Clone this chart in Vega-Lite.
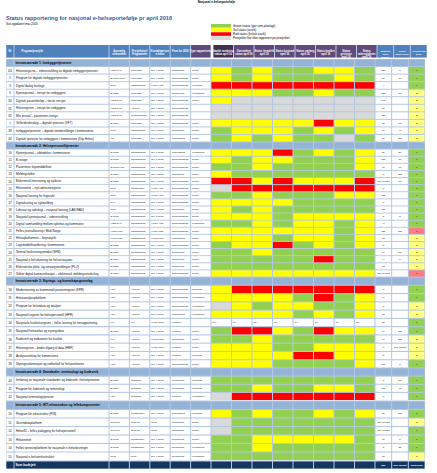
{
"$schema":"https://vega.github.io/schema/vega-lite/v6.json",
"background":"#FFFFFF",
"padding":{"left":6,"top":0,"right":4,"bottom":4},
"config":{"font":"Liberation Sans","view":{"stroke":null},"concat":{"spacing":0}},
"title":{"text":"Nasjonal e-helseportefølje","fontSize":3,"fontWeight":"bold","anchor":"middle","color":"#000000","offset":12},
"datasets":{
"legend":[{"code":"G","label":"Grønn status (går som planlagt)"},{"code":"Y","label":"Gul status (avvik)"},{"code":"R","label":"Rød status (kritisk avvik)"},{"code":"X","label":"Prosjektet har ikke rapportert på prosjektet"}],
"header":[
{"k":"nr","t":"Nr","g":"basis"},
{"k":"name","t":"Program/prosjekt","g":"basis"},
{"k":"a","t":"Ansvarlig\nvirksomhet","g":"basis"},
{"k":"b","t":"Prosjekteier/\nProgrameier","g":"basis"},
{"k":"c","t":"Kontaktperson\ne-helse","g":"basis"},
{"k":"fase","t":"Fase for 2016","g":"basis"},
{"k":"rap","t":"Type rapportering","g":"rapport"},
{"k":"s1","t":"Samlet vurdering\nstatus april 16","g":"samlet"},
{"k":"s2","t":"Overordnet\nstatus april 16","g":"rapport"},
{"k":"s3","t":"Status fremdrift\napril 16","g":"rapport"},
{"k":"s4","t":"Status kostnad\napril 16","g":"rapport"},
{"k":"s5","t":"Status omfang\napril 16","g":"rapport"},
{"k":"s6","t":"Status kvalitet\napril 16","g":"rapport"},
{"k":"s7","t":"Status\ngevinster\napril 16","g":"rapport"},
{"k":"s8","t":"Status\navhengigheter\napril 16","g":"rapport"},
{"k":"n1","t":"Budsjett\n2016\n(MNOK)","g":"okonomi"},
{"k":"n2","t":"Tildelt\nmidler 2016","g":"okonomi"},
{"k":"p","t":"Prioritering\n2016","g":"okonomi"}],
"rows":[
{"sec":"S1","i":1,"t":"section","name":"Innsatsområde 1: Innbyggertjenester"},
{"sec":"S1","i":2,"t":"item","nr":"101","name":"Helsenorge.no – videreutvikling av digitale innbyggertjenester","a":"HSØ RHF","b":"Innbygger","c":"Dir. e-helse","fase":"Realisering","rap":"Tertial","s1":"Y","s2":"G","s3":"Y","s4":"G","s5":"G","s6":"Y","s7":"Y","s8":"G","n1":"250","n2":"5","p":"1"},
{"sec":"S1","i":3,"t":"item","nr":"5","name":"Program for digitale innbyggertjenester","a":"E-helse/NHN","b":"Innbygger","c":"Dir. e-helse","fase":"Gjennomføring","rap":"Tertial","s1":"Y","s2":"G","s3":"Y","s4":"G","s5":"G","s6":"G","s7":"Y","s8":"G","n1":"86","n2":"80","p":"1"},
{"sec":"S1","i":4,"t":"item","nr":"3","name":"Digital dialog fastlege","a":"NHN","b":"Samhandling","c":"Helse Vest","fase":"Gjennomføring","rap":"Månedlig","s1":"R","s2":"R","s3":"R","s4":"R","s5":"R","s6":"R","s7":"R","s8":"R","n1":"4","n2":"","p":"1"},
{"sec":"S1","i":5,"t":"item","nr":"9","name":"Kjernejournal – innsyn for innbyggere","a":"E-helse","b":"Innbygger","c":"Dir. e-helse","fase":"Realisering","rap":"Kvartalsvis","s1":"Y","s2":"Y","s3":"Y","s4":"G","s5":"G","s6":"Y","s7":"G","s8":"G","n1":"153","n2":"53","p":"2"},
{"sec":"S1","i":6,"t":"item","nr":"80","name":"Digitale pasientforløp – første versjon","a":"HSØ RHF","b":"Innbygger","c":"Dir. e-helse","fase":"Gjennomføring","rap":"Tertial","s1":"Y","s2":"X","s3":"X","s4":"X","s5":"X","s6":"X","s7":"X","s8":"X","n1":"540","n2":"","p":"2"},
{"sec":"S1","i":7,"t":"item","nr":"81","name":"Helseregistre – innsyn for innbyggere","a":"HSØ RHF","b":"Analyse","c":"Dir. e-helse","fase":"Gjennomføring","rap":"","s1":"X","s2":"X","s3":"X","s4":"X","s5":"X","s6":"X","s7":"X","s8":"X","n1":"17","n2":"","p":"2"},
{"sec":"S1","i":8,"t":"item","nr":"82","name":"Min journal – pasientens innsyn","a":"HSØ RHF","b":"Prosjektkontor","c":"Dir. e-helse","fase":"Gjennomføring","rap":"","s1":"X","s2":"X","s3":"X","s4":"X","s5":"X","s6":"X","s7":"X","s8":"X","n1":"720","n2":"","p":"2"},
{"sec":"S1","i":9,"t":"item","nr":"7","name":"Velferdsteknologi – digitale tjenester (VFT)","a":"E-helse","b":"Innbygger","c":"Dir. e-helse","fase":"Gjennomføring","rap":"Tertial","s1":"Y","s2":"Y","s3":"Y","s4":"Y","s5":"Y","s6":"R","s7":"Y","s8":"Y","n1":"30","n2":"30","p":"2"},
{"sec":"S1","i":10,"t":"item","nr":"83","name":"Innbyggertjenester – digitale timebestillinger i kommunene","a":"NHN","b":"Samhandling","c":"Dir. e-helse","fase":"Realisering","rap":"Tertial","s1":"G","s2":"Y","s3":"Y","s4":"Y","s5":"G","s6":"Y","s7":"G","s8":"Y","n1":"40","n2":"40","p":"2"},
{"sec":"S1","i":11,"t":"item","nr":"84","name":"Digitale tjenester for innbyggere i kommunene (Digi Helse)","a":"KS","b":"Innbygger","c":"Dir. e-helse","fase":"Planlegging","rap":"Tertial","s1":"G","s2":"Y","s3":"G","s4":"Y","s5":"G","s6":"G","s7":"X","s8":"G","n1":"10","n2":"25","p":"2"},
{"sec":"S2","i":12,"t":"section","name":"Innsatsområde 2: Helsepersonelltjenester"},
{"sec":"S2","i":13,"t":"item","nr":"10","name":"Kjernejournal – utbredelse i kommunene","a":"E-helse","b":"Samhandling","c":"Dir. e-helse","fase":"Planlegging","rap":"Kvartalsvis","s1":"Y","s2":"Y","s3":"Y","s4":"R","s5":"G","s6":"Y","s7":"G","s8":"Y","n1":"20","n2":"20","p":"1"},
{"sec":"S2","i":14,"t":"item","nr":"11","name":"E-resept","a":"E-helse","b":"Samhandling","c":"Dir. e-helse","fase":"Gjennomføring","rap":"Tertial","s1":"Y","s2":"G","s3":"Y","s4":"Y","s5":"G","s6":"G","s7":"G","s8":"Y","n1":"150","n2":"30","p":"1"},
{"sec":"S2","i":15,"t":"item","nr":"12","name":"Pasientens legemiddelliste","a":"E-helse/Hdir","b":"Samhandling","c":"Dir. e-helse","fase":"Gjennomføring","rap":"Tertial","s1":"G","s2":"G","s3":"Y","s4":"G","s5":"G","s6":"G","s7":"G","s8":"Y","n1":"17","n2":"17","p":"1"},
{"sec":"S2","i":16,"t":"item","nr":"13","name":"Meldingsløftet","a":"E-helse","b":"Samhandling","c":"Dir. e-helse","fase":"Realisering","rap":"Tertial","s1":"Y","s2":"G","s3":"G","s4":"G","s5":"G","s6":"G","s7":"G","s8":"G","n1":"3","n2":"150","p":"1"},
{"sec":"S2","i":17,"t":"item","nr":"14","name":"Elektronisk henvisning og epikrise","a":"E-helse","b":"Samhandling","c":"Dir. e-helse","fase":"Gjennomføring","rap":"Tertial","s1":"R","s2":"R","s3":"Y","s4":"R","s5":"Y","s6":"Y","s7":"Y","s8":"R","n1":"Ikke avklart","n2":"10","p":"1"},
{"sec":"S2","i":18,"t":"item","nr":"15","name":"Helsenettet – nytt adresseregister","a":"NHN","b":"Infrastruktur","c":"Helse Vest","fase":"Gjennomføring","rap":"Tertial","s1":"X","s2":"R","s3":"R","s4":"R","s5":"R","s6":"R","s7":"R","s8":"R","n1":"3","n2":"","p":"1"},
{"sec":"S2","i":19,"t":"item","nr":"16","name":"Nasjonal løsning for legevakt","a":"NHN","b":"Samhandling","c":"Helse Vest","fase":"Gjennomføring","rap":"Tertial","s1":"G","s2":"G","s3":"Y","s4":"G","s5":"G","s6":"G","s7":"Y","s8":"Y","n1":"150","n2":"","p":"1"},
{"sec":"S2","i":20,"t":"item","nr":"17","name":"Digitalisering av sykmelding","a":"NAV","b":"Samhandling","c":"Dir. e-helse","fase":"Gjennomføring","rap":"Tertial","s1":"Y","s2":"Y","s3":"Y","s4":"Y","s5":"G","s6":"G","s7":"G","s8":"G","n1":"3","n2":"","p":"1"},
{"sec":"S2","i":21,"t":"item","nr":"18","name":"Labsvar og radiologi – nasjonal løsning (LAB-RAD)","a":"NHN","b":"Samhandling","c":"Dir. e-helse","fase":"Realisering","rap":"Tertial","s1":"Y","s2":"G","s3":"Y","s4":"G","s5":"G","s6":"G","s7":"G","s8":"G","n1":"110","n2":"","p":"1"},
{"sec":"S2","i":22,"t":"item","nr":"19","name":"Nasjonal kjernejournal – videreutvikling","a":"E-helse","b":"Samhandling","c":"Dir. e-helse","fase":"Gjennomføring","rap":"Tertial","s1":"Y","s2":"Y","s3":"Y","s4":"G","s5":"Y","s6":"Y","s7":"Y","s8":"Y","n1":"5","n2":"5","p":"1"},
{"sec":"S2","i":23,"t":"item","nr":"20","name":"Digital samhandling mellom sykehus og kommuner","a":"HSØ RHF","b":"Samhandling","c":"Helse Vest","fase":"Gjennomføring","rap":"Kvartalsvis","s1":"G","s2":"G","s3":"Y","s4":"G","s5":"Y","s6":"Y","s7":"G","s8":"Y","n1":"44","n2":"","p":"1"},
{"sec":"S2","i":24,"t":"item","nr":"21","name":"Felles journalløsning i Midt-Norge","a":"Helse Midt","b":"Samhandling","c":"Helse Midt","fase":"Gjennomføring","rap":"Tertial","s1":"Y","s2":"Y","s3":"Y","s4":"Y","s5":"Y","s6":"Y","s7":"G","s8":"Y","n1":"120","n2":"120","p":"3"},
{"sec":"S2","i":25,"t":"item","nr":"22","name":"Helseplattformen – forprosjekt","a":"Helse Midt","b":"Samhandling","c":"Helse Midt","fase":"Planlegging","rap":"Tertial","s1":"Y","s2":"Y","s3":"Y","s4":"G","s5":"Y","s6":"Y","s7":"G","s8":"Y","n1":"12","n2":"","p":"2"},
{"sec":"S2","i":26,"t":"item","nr":"23","name":"Legemiddelhåndtering i kommunene","a":"E-helse","b":"Samhandling","c":"Dir. e-helse","fase":"Gjennomføring","rap":"Tertial","s1":"G","s2":"Y","s3":"Y","s4":"R","s5":"G","s6":"Y","s7":"G","s8":"Y","n1":"5","n2":"","p":"2"},
{"sec":"S2","i":27,"t":"item","nr":"24","name":"Sentral forskrivningsmodul (SFM)","a":"E-helse","b":"Samhandling","c":"Dir. e-helse","fase":"Realisering","rap":"Tertial","s1":"G","s2":"G","s3":"Y","s4":"G","s5":"G","s6":"G","s7":"G","s8":"G","n1":"14","n2":"30","p":"2"},
{"sec":"S2","i":28,"t":"item","nr":"25","name":"Nasjonal e-helseløsning for helsestasjoner","a":"E-helse","b":"Samhandling","c":"Dir. e-helse","fase":"Realisering","rap":"Tertial","s1":"G","s2":"G","s3":"G","s4":"G","s5":"G","s6":"R","s7":"G","s8":"G","n1":"44","n2":"44","p":"2"},
{"sec":"S2","i":29,"t":"item","nr":"26","name":"Elektroniske pleie- og omsorgsmeldinger (PLO)","a":"E-helse","b":"Samhandling","c":"Dir. e-helse","fase":"Realisering","rap":"Tertial","s1":"G","s2":"G","s3":"G","s4":"G","s5":"G","s6":"G","s7":"G","s8":"G","n1":"12","n2":"","p":"2"},
{"sec":"S2","i":30,"t":"item","nr":"27","name":"Sikker digital kommunikasjon – elektronisk meldingsutveksling","a":"E-helse","b":"Samhandling","c":"Dir. e-helse","fase":"Gjennomføring","rap":"Tertial","s1":"Y","s2":"Y","s3":"Y","s4":"Y","s5":"Y","s6":"Y","s7":"Y","s8":"Y","n1":"Ikke avklart","n2":"","p":"3"},
{"sec":"S3","i":31,"t":"section","name":"Innsatsområde 3: Styrings- og kunnskapsgrunnlag"},
{"sec":"S3","i":32,"t":"item","nr":"30","name":"Modernisering av kommunalt pasientregister (KPR)","a":"Hdir","b":"Analyse","c":"Dir. e-helse","fase":"Gjennomføring","rap":"Månedlig","s1":"Y","s2":"R","s3":"R","s4":"R","s5":"R","s6":"R","s7":"R","s8":"R","n1":"3","n2":"","p":"1"},
{"sec":"S3","i":33,"t":"item","nr":"31","name":"Helseanalyseplattform","a":"Hdir","b":"Analyse","c":"Dir. e-helse","fase":"Gjennomføring","rap":"Kvartalsvis","s1":"Y","s2":"Y","s3":"Y","s4":"Y","s5":"G","s6":"R","s7":"G","s8":"Y","n1":"14","n2":"","p":"1"},
{"sec":"S3","i":34,"t":"item","nr":"32","name":"Program for helsedata og analyse","a":"Hdir","b":"Analyse","c":"Dir. e-helse","fase":"Gjennomføring","rap":"Kvartalsvis","s1":"X","s2":"Y","s3":"G","s4":"Y","s5":"Y","s6":"G","s7":"G","s8":"Y","n1":"3","n2":"","p":"2"},
{"sec":"S3","i":35,"t":"item","nr":"33","name":"Nasjonalt register for helsepersonell (HPR)","a":"Hdir","b":"Analyse","c":"Dir. e-helse","fase":"Planlegging","rap":"Kvartalsvis","s1":"Y","s2":"Y","s3":"Y","s4":"Y","s5":"G","s6":"Y","s7":"G","s8":"Y","n1":"18","n2":"","p":"2"},
{"sec":"S3","i":36,"t":"item","nr":"34","name":"Nasjonale kvalitetsregistre – felles løsning for innrapportering","a":"FHI","b":"FHI","c":"Helse Nord","fase":"Konsept","rap":"","s1":"N/A","s2":"N/A","s3":"N/A","s4":"N/A","s5":"N/A","s6":"N/A","s7":"N/A","s8":"N/A","n1":"20","n2":"","p":"1"},
{"sec":"S3","i":37,"t":"item","nr":"35","name":"Nasjonalt helseatlas og styringsdata","a":"E-helse","b":"Analyse","c":"Dir. e-helse","fase":"Konsept","rap":"Tertial","s1":"G","s2":"R","s3":"R","s4":"Y","s5":"G","s6":"R","s7":"Y","s8":"Y","n1":"14","n2":"110","p":"1"},
{"sec":"S3","i":38,"t":"item","nr":"36","name":"Kodeverk og indikatorer for kvalitet","a":"FHI","b":"Analyse","c":"Helse Nord","fase":"Realisering","rap":"Tertial","s1":"G","s2":"G","s3":"Y","s4":"G","s5":"G","s6":"G","s7":"G","s8":"G","n1":"14","n2":"110","p":"2"},
{"sec":"S3","i":39,"t":"item","nr":"37","name":"Helseregistre – bedre tilgang til data (HRP)","a":"FHI","b":"Analyse","c":"Helse Nord","fase":"Konsept","rap":"Tertial","s1":"Y","s2":"Y","s3":"Y","s4":"G","s5":"G","s6":"Y","s7":"Y","s8":"Y","n1":"3","n2":"Ikke fordelt","p":"2"},
{"sec":"S3","i":40,"t":"item","nr":"38","name":"Analyseverktøy for kommunene","a":"Hdir","b":"Analyse","c":"Dir. e-helse","fase":"Konsept","rap":"Månedlig","s1":"Y","s2":"Y","s3":"Y","s4":"Y","s5":"R","s6":"R","s7":"Y","s8":"Y","n1":"5","n2":"","p":"2"},
{"sec":"S3","i":41,"t":"item","nr":"39","name":"Styringsinformasjon og nøkkeltall for helsesektoren","a":"Hdir","b":"Analyse","c":"Dir. e-helse","fase":"Gjennomføring","rap":"Tertial","s1":"Y","s2":"Y","s3":"Y","s4":"G","s5":"G","s6":"G","s7":"G","s8":"Y","n1":"160","n2":"5","p":"1"},
{"sec":"S4","i":42,"t":"section","name":"Innsatsområde 4: Standarder, terminologi og kodeverk"},
{"sec":"S4","i":43,"t":"item","nr":"40","name":"Innføring av nasjonale standarder og kodeverk i helsetjenesten","a":"E-helse","b":"Standard","c":"Dir. e-helse","fase":"Realisering","rap":"Månedlig","s1":"G","s2":"G","s3":"G","s4":"G","s5":"G","s6":"G","s7":"G","s8":"G","n1":"7","n2":"10","p":"1"},
{"sec":"S4","i":44,"t":"item","nr":"41","name":"Program for kodeverk og terminologi","a":"E-helse","b":"Standard","c":"Dir. e-helse","fase":"Realisering","rap":"Månedlig","s1":"G","s2":"G","s3":"Y","s4":"G","s5":"G","s6":"Y","s7":"Y","s8":"G","n1":"170","n2":"45","p":"1"},
{"sec":"S4","i":45,"t":"item","nr":"42","name":"Nasjonal terminologitjeneste","a":"Hdir","b":"Standard","c":"Dir. e-helse","fase":"Konsept","rap":"Kvartalsvis","s1":"X","s2":"R","s3":"R","s4":"R","s5":"R","s6":"R","s7":"R","s8":"R","n1":"3","n2":"","p":"1"},
{"sec":"S5","i":46,"t":"section","name":"Innsatsområde 5: IKT-infrastruktur og fellekomponenter"},
{"sec":"S5","i":47,"t":"item","nr":"50","name":"Program for infrastruktur (PIN)","a":"E-helse","b":"Infrastruktur","c":"Dir. e-helse","fase":"Planlegging","rap":"Månedlig","s1":"Y","s2":"G","s3":"Y","s4":"G","s5":"G","s6":"Y","s7":"G","s8":"Y","n1":"75","n2":"130","p":"1"},
{"sec":"S5","i":48,"t":"item","nr":"51","name":"Grunndataplattform","a":"NHN SF","b":"NHN SF","c":"NHN","fase":"Realisering","rap":"Tertial","s1":"X","s2":"G","s3":"G","s4":"G","s5":"G","s6":"G","s7":"G","s8":"G","n1":"Ikke avklart","n2":"","p":"2"},
{"sec":"S5","i":49,"t":"item","nr":"52","name":"HelseID – felles pålogging for helsepersonell","a":"NHN SF","b":"NHN SF","c":"NHN","fase":"Realisering","rap":"Tertial","s1":"X","s2":"G","s3":"G","s4":"G","s5":"G","s6":"G","s7":"G","s8":"G","n1":"Ikke avklart","n2":"","p":"1"},
{"sec":"S5","i":50,"t":"item","nr":"53","name":"Helsenettet","a":"E-helse","b":"Infrastruktur","c":"Dir. e-helse","fase":"Realisering","rap":"Tertial","s1":"G","s2":"G","s3":"Y","s4":"Y","s5":"Y","s6":"Y","s7":"Y","s8":"G","n1":"10","n2":"5","p":"1"},
{"sec":"S5","i":51,"t":"item","nr":"54","name":"Felles tjenesteplattform for nasjonale e-helseløsninger","a":"E-helse","b":"Infrastruktur","c":"Dir. e-helse","fase":"Realisering","rap":"Kvartalsvis","s1":"G","s2":"G","s3":"Y","s4":"G","s5":"G","s6":"G","s7":"G","s8":"G","n1":"8","n2":"25","p":"1"},
{"sec":"S5","i":52,"t":"item","nr":"55","name":"Nasjonal e-helseinfrastruktur","a":"NHN","b":"NHN","c":"Dir. e-helse","fase":"Realisering","rap":"Kvartalsvis","s1":"G","s2":"G","s3":"G","s4":"G","s5":"G","s6":"G","s7":"G","s8":"G","n1":"68","n2":"","p":"2"},
{"sec":"T","i":53,"t":"total","name":"Sum budsjett","n1":"830","n2":"Ikke fordelt"}
]},
"data":{"name":"rows"},
"spacing":4,
"vconcat":[
{"hconcat":[
 {"width":205,"height":16,"data":{"values":[]},"mark":"point","encoding":{},
  "title":{"text":"Status rapportering for nasjonal e-helseportefølje pr april 2016","subtitle":"Sist oppdatert mai 2016","anchor":"start","fontSize":5.6,"fontWeight":"bold","color":"#2E5C9E","subtitleFontSize":3,"subtitleColor":"#000000","subtitlePadding":1.5,"offset":-2}},
 {"width":20,"height":16,"data":{"name":"legend"},"mark":"rect",
  "encoding":{"y":{"field":"label","type":"nominal","sort":["Grønn status (går som planlagt)","Gul status (avvik)","Rød status (kritisk avvik)","Prosjektet har ikke rapportert på prosjektet"],"axis":{"orient":"right","title":null,"ticks":false,"domain":false,"labelFontSize":3,"labelPadding":1.5,"labelColor":"#000000","labelLimit":0},"scale":{"paddingInner":0.12,"paddingOuter":0}},
   "color":{"field":"code","type":"nominal","scale":{"domain":["G","Y","R","X","N/A","1","2","3"],"range":["#92D050","#FFFF00","#FF0000","#D9D9D9","#FFFFFF","#92D050","#FFFF80","#FF7C80"]},"legend":null}}}
],"spacing":0,"bounds":"flush"},
{"spacing":0,"vconcat":[
{"spacing":0,"hconcat":[
 {"width":8,"height":12.5,"view":{"fill":"#B4C7E3","stroke":null},"data":{"name":"header"},"transform":[{"filter":{"field":"k","oneOf":["nr"]}}],"encoding":{"x":{"field":"k","type":"nominal","axis":null,"scale":{"paddingInner":0,"paddingOuter":0.06}}},"layer":[{"mark":"rect","encoding":{"fill":{"field":"g","type":"nominal","scale":{"domain":["basis","rapport","samlet","okonomi"],"range":["#4F81BD","#604A7B","#3F3151","#4F81BD"]},"legend":null}}},{"mark":{"type":"text","fontSize":2.6,"fontWeight":"bold","color":"#FFFFFF","lineBreak":"\n","lineHeight":3},"encoding":{"text":{"field":"t"}}}]},
 {"width":95,"height":12.5,"view":{"fill":"#B4C7E3","stroke":null},"data":{"name":"header"},"transform":[{"filter":{"field":"k","oneOf":["name"]}}],"encoding":{"x":{"field":"k","type":"nominal","axis":null,"scale":{"paddingInner":0,"paddingOuter":0.005}}},"layer":[{"mark":"rect","encoding":{"fill":{"field":"g","type":"nominal","scale":{"domain":["basis","rapport","samlet","okonomi"],"range":["#4F81BD","#604A7B","#3F3151","#4F81BD"]},"legend":null}}},{"mark":{"type":"text","fontSize":2.6,"fontWeight":"bold","color":"#FFFFFF","align":"left","dx":7,"lineBreak":"\n","lineHeight":3},"encoding":{"x":{"field":"k","type":"nominal","bandPosition":0,"axis":null},"text":{"field":"t"}}}]},
 {"width":102,"height":12.5,"view":{"fill":"#B4C7E3","stroke":null},"data":{"name":"header"},"transform":[{"filter":{"field":"k","oneOf":["a","b","c","fase","rap"]}}],"encoding":{"x":{"field":"k","type":"nominal","sort":["a","b","c","fase","rap"],"axis":null,"scale":{"paddingInner":0.05,"paddingOuter":0.025}}},"layer":[{"mark":"rect","encoding":{"fill":{"field":"g","type":"nominal","scale":{"domain":["basis","rapport","samlet","okonomi"],"range":["#4F81BD","#604A7B","#3F3151","#4F81BD"]},"legend":null}}},{"mark":{"type":"text","fontSize":2.6,"fontWeight":"bold","color":"#FFFFFF","lineBreak":"\n","lineHeight":3},"encoding":{"text":{"field":"t"}}}]},
 {"width":164,"height":12.5,"view":{"fill":"#B4C7E3","stroke":null},"data":{"name":"header"},"transform":[{"filter":{"field":"k","oneOf":["s1","s2","s3","s4","s5","s6","s7","s8"]}}],"encoding":{"x":{"field":"k","type":"nominal","sort":["s1","s2","s3","s4","s5","s6","s7","s8"],"axis":null,"scale":{"paddingInner":0.05,"paddingOuter":0.025}}},"layer":[{"mark":"rect","encoding":{"fill":{"field":"g","type":"nominal","scale":{"domain":["basis","rapport","samlet","okonomi"],"range":["#4F81BD","#604A7B","#3F3151","#4F81BD"]},"legend":null}}},{"mark":{"type":"text","fontSize":2.6,"fontWeight":"bold","color":"#FFFFFF","lineBreak":"\n","lineHeight":3},"encoding":{"text":{"field":"t"}}}]},
 {"width":50,"height":12.5,"view":{"fill":"#B4C7E3","stroke":null},"data":{"name":"header"},"transform":[{"filter":{"field":"k","oneOf":["n1","n2","p"]}}],"encoding":{"x":{"field":"k","type":"nominal","sort":["n1","n2","p"],"axis":null,"scale":{"paddingInner":0.06,"paddingOuter":0.03}}},"layer":[{"mark":"rect","encoding":{"fill":{"field":"g","type":"nominal","scale":{"domain":["basis","rapport","samlet","okonomi"],"range":["#4F81BD","#604A7B","#3F3151","#4F81BD"]},"legend":null}}},{"mark":{"type":"text","fontSize":2.4,"fontWeight":"bold","color":"#FFFFFF","lineBreak":"\n","lineHeight":3},"encoding":{"text":{"field":"t"}}}]}
]},
{"spacing":0,"hconcat":[
 {"width":8,"height":83,"view":{"fill":"#B4C7E3","stroke":null},"transform":[{"filter":"datum.sec==='S1'"},{"fold":["nr"]}],"encoding":{"x":{"field":"key","type":"nominal","axis":null,"scale":{"paddingInner":0,"paddingOuter":0.06}},"y":{"field":"i","type":"ordinal","axis":null,"scale":{"paddingInner":0.13,"paddingOuter":0.065}}},"layer":[{"mark":"rect","encoding":{"color":{"condition":[{"test":"datum.t==='section'","value":"#95B3D7"},{"test":"datum.t==='total'","value":"#17365D"}],"value":"#FFFFFF"}}},{"transform":[{"filter":"datum.t==='item'"}],"mark":{"type":"text","fontSize":2.8,"color":"#111111"},"encoding":{"text":{"field":"value"}}}]},
 {"width":95,"height":83,"view":{"fill":"#B4C7E3","stroke":null},"transform":[{"filter":"datum.sec==='S1'"},{"fold":["name"]}],"encoding":{"x":{"field":"key","type":"nominal","axis":null,"scale":{"paddingInner":0,"paddingOuter":0.005}},"y":{"field":"i","type":"ordinal","axis":null,"scale":{"paddingInner":0.13,"paddingOuter":0.065}}},"layer":[{"mark":"rect","encoding":{"color":{"condition":[{"test":"datum.t==='section'","value":"#95B3D7"},{"test":"datum.t==='total'","value":"#17365D"}],"value":"#FFFFFF"}}},{"transform":[{"filter":"datum.t==='item'"}],"mark":{"type":"text","fontSize":3,"align":"left","dx":1.5,"color":"#111111"},"encoding":{"x":{"field":"key","type":"nominal","bandPosition":0,"axis":null},"text":{"field":"value"}}},{"transform":[{"filter":"datum.t==='section'"}],"mark":{"type":"text","fontSize":3.2,"fontWeight":"bold","align":"left","dx":1,"color":"#000000"},"encoding":{"x":{"field":"key","type":"nominal","bandPosition":0,"axis":null},"text":{"field":"value"}}}]},
 {"width":102,"height":83,"view":{"fill":"#B4C7E3","stroke":null},"transform":[{"filter":"datum.sec==='S1'"},{"fold":["a","b","c","fase","rap"]}],"encoding":{"x":{"field":"key","type":"nominal","sort":["a","b","c","fase","rap"],"axis":null,"scale":{"paddingInner":0.05,"paddingOuter":0.025}},"y":{"field":"i","type":"ordinal","axis":null,"scale":{"paddingInner":0.13,"paddingOuter":0.065}}},"layer":[{"mark":"rect","encoding":{"color":{"condition":[{"test":"datum.t==='section'","value":"#95B3D7"},{"test":"datum.t==='total'","value":"#17365D"}],"value":"#FFFFFF"}}},{"transform":[{"filter":"datum.t==='item'"}],"mark":{"type":"text","fontSize":2.5,"align":"left","dx":1,"color":"#111111"},"encoding":{"x":{"field":"key","type":"nominal","sort":["a","b","c","fase","rap"],"bandPosition":0,"axis":null},"text":{"field":"value"}}}]},
 {"width":164,"height":83,"view":{"fill":"#B4C7E3","stroke":null},"transform":[{"filter":"datum.sec==='S1'"},{"fold":["s1","s2","s3","s4","s5","s6","s7","s8"]}],"encoding":{"x":{"field":"key","type":"nominal","sort":["s1","s2","s3","s4","s5","s6","s7","s8"],"axis":null,"scale":{"paddingInner":0.05,"paddingOuter":0.025}},"y":{"field":"i","type":"ordinal","axis":null,"scale":{"paddingInner":0.13,"paddingOuter":0.065}}},"layer":[{"mark":"rect","encoding":{"color":{"condition":[{"test":"datum.t==='section'","value":"#95B3D7"},{"test":"datum.t==='total'","value":"#17365D"}],"field":"value","type":"nominal","scale":{"domain":["G","Y","R","X","N/A","1","2","3"],"range":["#92D050","#FFFF00","#FF0000","#D9D9D9","#FFFFFF","#92D050","#FFFF80","#FF7C80"]},"legend":null}}}]},
 {"width":50,"height":83,"view":{"fill":"#B4C7E3","stroke":null},"transform":[{"filter":"datum.sec==='S1'"},{"fold":["n1","n2","p"]}],"encoding":{"x":{"field":"key","type":"nominal","sort":["n1","n2","p"],"axis":null,"scale":{"paddingInner":0.06,"paddingOuter":0.03}},"y":{"field":"i","type":"ordinal","axis":null,"scale":{"paddingInner":0.13,"paddingOuter":0.065}}},"layer":[{"mark":"rect","encoding":{"color":{"condition":[{"test":"datum.t==='section'","value":"#95B3D7"},{"test":"datum.t==='total'","value":"#17365D"},{"test":"datum.key!=='p'","value":"#FFFFFF"}],"field":"value","type":"nominal","scale":{"domain":["G","Y","R","X","N/A","1","2","3"],"range":["#92D050","#FFFF00","#FF0000","#D9D9D9","#FFFFFF","#92D050","#FFFF80","#FF7C80"]},"legend":null}}},{"transform":[{"filter":"datum.t==='item'"}],"mark":{"type":"text","fontSize":2.5,"color":"#111111"},"encoding":{"text":{"field":"value"}}}]}
]},
{"spacing":0,"hconcat":[
 {"width":8,"height":135,"view":{"fill":"#B4C7E3","stroke":null},"transform":[{"filter":"datum.sec==='S2'"},{"fold":["nr"]}],"encoding":{"x":{"field":"key","type":"nominal","axis":null,"scale":{"paddingInner":0,"paddingOuter":0.06}},"y":{"field":"i","type":"ordinal","axis":null,"scale":{"paddingInner":0.13,"paddingOuter":0.065}}},"layer":[{"mark":"rect","encoding":{"color":{"condition":[{"test":"datum.t==='section'","value":"#95B3D7"},{"test":"datum.t==='total'","value":"#17365D"}],"value":"#FFFFFF"}}},{"transform":[{"filter":"datum.t==='item'"}],"mark":{"type":"text","fontSize":2.8,"color":"#111111"},"encoding":{"text":{"field":"value"}}}]},
 {"width":95,"height":135,"view":{"fill":"#B4C7E3","stroke":null},"transform":[{"filter":"datum.sec==='S2'"},{"fold":["name"]}],"encoding":{"x":{"field":"key","type":"nominal","axis":null,"scale":{"paddingInner":0,"paddingOuter":0.005}},"y":{"field":"i","type":"ordinal","axis":null,"scale":{"paddingInner":0.13,"paddingOuter":0.065}}},"layer":[{"mark":"rect","encoding":{"color":{"condition":[{"test":"datum.t==='section'","value":"#95B3D7"},{"test":"datum.t==='total'","value":"#17365D"}],"value":"#FFFFFF"}}},{"transform":[{"filter":"datum.t==='item'"}],"mark":{"type":"text","fontSize":3,"align":"left","dx":1.5,"color":"#111111"},"encoding":{"x":{"field":"key","type":"nominal","bandPosition":0,"axis":null},"text":{"field":"value"}}},{"transform":[{"filter":"datum.t==='section'"}],"mark":{"type":"text","fontSize":3.2,"fontWeight":"bold","align":"left","dx":1,"color":"#000000"},"encoding":{"x":{"field":"key","type":"nominal","bandPosition":0,"axis":null},"text":{"field":"value"}}}]},
 {"width":102,"height":135,"view":{"fill":"#B4C7E3","stroke":null},"transform":[{"filter":"datum.sec==='S2'"},{"fold":["a","b","c","fase","rap"]}],"encoding":{"x":{"field":"key","type":"nominal","sort":["a","b","c","fase","rap"],"axis":null,"scale":{"paddingInner":0.05,"paddingOuter":0.025}},"y":{"field":"i","type":"ordinal","axis":null,"scale":{"paddingInner":0.13,"paddingOuter":0.065}}},"layer":[{"mark":"rect","encoding":{"color":{"condition":[{"test":"datum.t==='section'","value":"#95B3D7"},{"test":"datum.t==='total'","value":"#17365D"}],"value":"#FFFFFF"}}},{"transform":[{"filter":"datum.t==='item'"}],"mark":{"type":"text","fontSize":2.5,"align":"left","dx":1,"color":"#111111"},"encoding":{"x":{"field":"key","type":"nominal","sort":["a","b","c","fase","rap"],"bandPosition":0,"axis":null},"text":{"field":"value"}}}]},
 {"width":164,"height":135,"view":{"fill":"#B4C7E3","stroke":null},"transform":[{"filter":"datum.sec==='S2'"},{"fold":["s1","s2","s3","s4","s5","s6","s7","s8"]}],"encoding":{"x":{"field":"key","type":"nominal","sort":["s1","s2","s3","s4","s5","s6","s7","s8"],"axis":null,"scale":{"paddingInner":0.05,"paddingOuter":0.025}},"y":{"field":"i","type":"ordinal","axis":null,"scale":{"paddingInner":0.13,"paddingOuter":0.065}}},"layer":[{"mark":"rect","encoding":{"color":{"condition":[{"test":"datum.t==='section'","value":"#95B3D7"},{"test":"datum.t==='total'","value":"#17365D"}],"field":"value","type":"nominal","scale":{"domain":["G","Y","R","X","N/A","1","2","3"],"range":["#92D050","#FFFF00","#FF0000","#D9D9D9","#FFFFFF","#92D050","#FFFF80","#FF7C80"]},"legend":null}}}]},
 {"width":50,"height":135,"view":{"fill":"#B4C7E3","stroke":null},"transform":[{"filter":"datum.sec==='S2'"},{"fold":["n1","n2","p"]}],"encoding":{"x":{"field":"key","type":"nominal","sort":["n1","n2","p"],"axis":null,"scale":{"paddingInner":0.06,"paddingOuter":0.03}},"y":{"field":"i","type":"ordinal","axis":null,"scale":{"paddingInner":0.13,"paddingOuter":0.065}}},"layer":[{"mark":"rect","encoding":{"color":{"condition":[{"test":"datum.t==='section'","value":"#95B3D7"},{"test":"datum.t==='total'","value":"#17365D"},{"test":"datum.key!=='p'","value":"#FFFFFF"}],"field":"value","type":"nominal","scale":{"domain":["G","Y","R","X","N/A","1","2","3"],"range":["#92D050","#FFFF00","#FF0000","#D9D9D9","#FFFFFF","#92D050","#FFFF80","#FF7C80"]},"legend":null}}},{"transform":[{"filter":"datum.t==='item'"}],"mark":{"type":"text","fontSize":2.5,"color":"#111111"},"encoding":{"text":{"field":"value"}}}]}
]},
{"spacing":0,"hconcat":[
 {"width":8,"height":91,"view":{"fill":"#B4C7E3","stroke":null},"transform":[{"filter":"datum.sec==='S3'"},{"fold":["nr"]}],"encoding":{"x":{"field":"key","type":"nominal","axis":null,"scale":{"paddingInner":0,"paddingOuter":0.06}},"y":{"field":"i","type":"ordinal","axis":null,"scale":{"paddingInner":0.13,"paddingOuter":0.065}}},"layer":[{"mark":"rect","encoding":{"color":{"condition":[{"test":"datum.t==='section'","value":"#95B3D7"},{"test":"datum.t==='total'","value":"#17365D"}],"value":"#FFFFFF"}}},{"transform":[{"filter":"datum.t==='item'"}],"mark":{"type":"text","fontSize":2.8,"color":"#111111"},"encoding":{"text":{"field":"value"}}}]},
 {"width":95,"height":91,"view":{"fill":"#B4C7E3","stroke":null},"transform":[{"filter":"datum.sec==='S3'"},{"fold":["name"]}],"encoding":{"x":{"field":"key","type":"nominal","axis":null,"scale":{"paddingInner":0,"paddingOuter":0.005}},"y":{"field":"i","type":"ordinal","axis":null,"scale":{"paddingInner":0.13,"paddingOuter":0.065}}},"layer":[{"mark":"rect","encoding":{"color":{"condition":[{"test":"datum.t==='section'","value":"#95B3D7"},{"test":"datum.t==='total'","value":"#17365D"}],"value":"#FFFFFF"}}},{"transform":[{"filter":"datum.t==='item'"}],"mark":{"type":"text","fontSize":3,"align":"left","dx":1.5,"color":"#111111"},"encoding":{"x":{"field":"key","type":"nominal","bandPosition":0,"axis":null},"text":{"field":"value"}}},{"transform":[{"filter":"datum.t==='section'"}],"mark":{"type":"text","fontSize":3.2,"fontWeight":"bold","align":"left","dx":1,"color":"#000000"},"encoding":{"x":{"field":"key","type":"nominal","bandPosition":0,"axis":null},"text":{"field":"value"}}}]},
 {"width":102,"height":91,"view":{"fill":"#B4C7E3","stroke":null},"transform":[{"filter":"datum.sec==='S3'"},{"fold":["a","b","c","fase","rap"]}],"encoding":{"x":{"field":"key","type":"nominal","sort":["a","b","c","fase","rap"],"axis":null,"scale":{"paddingInner":0.05,"paddingOuter":0.025}},"y":{"field":"i","type":"ordinal","axis":null,"scale":{"paddingInner":0.13,"paddingOuter":0.065}}},"layer":[{"mark":"rect","encoding":{"color":{"condition":[{"test":"datum.t==='section'","value":"#95B3D7"},{"test":"datum.t==='total'","value":"#17365D"}],"value":"#FFFFFF"}}},{"transform":[{"filter":"datum.t==='item'"}],"mark":{"type":"text","fontSize":2.5,"align":"left","dx":1,"color":"#111111"},"encoding":{"x":{"field":"key","type":"nominal","sort":["a","b","c","fase","rap"],"bandPosition":0,"axis":null},"text":{"field":"value"}}}]},
 {"width":164,"height":91,"view":{"fill":"#B4C7E3","stroke":null},"transform":[{"filter":"datum.sec==='S3'"},{"fold":["s1","s2","s3","s4","s5","s6","s7","s8"]}],"encoding":{"x":{"field":"key","type":"nominal","sort":["s1","s2","s3","s4","s5","s6","s7","s8"],"axis":null,"scale":{"paddingInner":0.05,"paddingOuter":0.025}},"y":{"field":"i","type":"ordinal","axis":null,"scale":{"paddingInner":0.13,"paddingOuter":0.065}}},"layer":[{"mark":"rect","encoding":{"color":{"condition":[{"test":"datum.t==='section'","value":"#95B3D7"},{"test":"datum.t==='total'","value":"#17365D"}],"field":"value","type":"nominal","scale":{"domain":["G","Y","R","X","N/A","1","2","3"],"range":["#92D050","#FFFF00","#FF0000","#D9D9D9","#FFFFFF","#92D050","#FFFF80","#FF7C80"]},"legend":null}}},{"transform":[{"filter":"datum.value==='N/A'"}],"mark":{"type":"text","fontSize":2.5,"align":"left","dx":1,"color":"#111111"},"encoding":{"x":{"field":"key","type":"nominal","sort":["s1","s2","s3","s4","s5","s6","s7","s8"],"bandPosition":0,"axis":null},"text":{"field":"value"}}}]},
 {"width":50,"height":91,"view":{"fill":"#B4C7E3","stroke":null},"transform":[{"filter":"datum.sec==='S3'"},{"fold":["n1","n2","p"]}],"encoding":{"x":{"field":"key","type":"nominal","sort":["n1","n2","p"],"axis":null,"scale":{"paddingInner":0.06,"paddingOuter":0.03}},"y":{"field":"i","type":"ordinal","axis":null,"scale":{"paddingInner":0.13,"paddingOuter":0.065}}},"layer":[{"mark":"rect","encoding":{"color":{"condition":[{"test":"datum.t==='section'","value":"#95B3D7"},{"test":"datum.t==='total'","value":"#17365D"},{"test":"datum.key!=='p'","value":"#FFFFFF"}],"field":"value","type":"nominal","scale":{"domain":["G","Y","R","X","N/A","1","2","3"],"range":["#92D050","#FFFF00","#FF0000","#D9D9D9","#FFFFFF","#92D050","#FFFF80","#FF7C80"]},"legend":null}}},{"transform":[{"filter":"datum.t==='item'"}],"mark":{"type":"text","fontSize":2.5,"color":"#111111"},"encoding":{"text":{"field":"value"}}}]}
]},
{"spacing":0,"hconcat":[
 {"width":8,"height":32.5,"view":{"fill":"#B4C7E3","stroke":null},"transform":[{"filter":"datum.sec==='S4'"},{"fold":["nr"]}],"encoding":{"x":{"field":"key","type":"nominal","axis":null,"scale":{"paddingInner":0,"paddingOuter":0.06}},"y":{"field":"i","type":"ordinal","axis":null,"scale":{"paddingInner":0.13,"paddingOuter":0.065}}},"layer":[{"mark":"rect","encoding":{"color":{"condition":[{"test":"datum.t==='section'","value":"#95B3D7"},{"test":"datum.t==='total'","value":"#17365D"}],"value":"#FFFFFF"}}},{"transform":[{"filter":"datum.t==='item'"}],"mark":{"type":"text","fontSize":2.8,"color":"#111111"},"encoding":{"text":{"field":"value"}}}]},
 {"width":95,"height":32.5,"view":{"fill":"#B4C7E3","stroke":null},"transform":[{"filter":"datum.sec==='S4'"},{"fold":["name"]}],"encoding":{"x":{"field":"key","type":"nominal","axis":null,"scale":{"paddingInner":0,"paddingOuter":0.005}},"y":{"field":"i","type":"ordinal","axis":null,"scale":{"paddingInner":0.13,"paddingOuter":0.065}}},"layer":[{"mark":"rect","encoding":{"color":{"condition":[{"test":"datum.t==='section'","value":"#95B3D7"},{"test":"datum.t==='total'","value":"#17365D"}],"value":"#FFFFFF"}}},{"transform":[{"filter":"datum.t==='item'"}],"mark":{"type":"text","fontSize":3,"align":"left","dx":1.5,"color":"#111111"},"encoding":{"x":{"field":"key","type":"nominal","bandPosition":0,"axis":null},"text":{"field":"value"}}},{"transform":[{"filter":"datum.t==='section'"}],"mark":{"type":"text","fontSize":3.2,"fontWeight":"bold","align":"left","dx":1,"color":"#000000"},"encoding":{"x":{"field":"key","type":"nominal","bandPosition":0,"axis":null},"text":{"field":"value"}}}]},
 {"width":102,"height":32.5,"view":{"fill":"#B4C7E3","stroke":null},"transform":[{"filter":"datum.sec==='S4'"},{"fold":["a","b","c","fase","rap"]}],"encoding":{"x":{"field":"key","type":"nominal","sort":["a","b","c","fase","rap"],"axis":null,"scale":{"paddingInner":0.05,"paddingOuter":0.025}},"y":{"field":"i","type":"ordinal","axis":null,"scale":{"paddingInner":0.13,"paddingOuter":0.065}}},"layer":[{"mark":"rect","encoding":{"color":{"condition":[{"test":"datum.t==='section'","value":"#95B3D7"},{"test":"datum.t==='total'","value":"#17365D"}],"value":"#FFFFFF"}}},{"transform":[{"filter":"datum.t==='item'"}],"mark":{"type":"text","fontSize":2.5,"align":"left","dx":1,"color":"#111111"},"encoding":{"x":{"field":"key","type":"nominal","sort":["a","b","c","fase","rap"],"bandPosition":0,"axis":null},"text":{"field":"value"}}}]},
 {"width":164,"height":32.5,"view":{"fill":"#B4C7E3","stroke":null},"transform":[{"filter":"datum.sec==='S4'"},{"fold":["s1","s2","s3","s4","s5","s6","s7","s8"]}],"encoding":{"x":{"field":"key","type":"nominal","sort":["s1","s2","s3","s4","s5","s6","s7","s8"],"axis":null,"scale":{"paddingInner":0.05,"paddingOuter":0.025}},"y":{"field":"i","type":"ordinal","axis":null,"scale":{"paddingInner":0.13,"paddingOuter":0.065}}},"layer":[{"mark":"rect","encoding":{"color":{"condition":[{"test":"datum.t==='section'","value":"#95B3D7"},{"test":"datum.t==='total'","value":"#17365D"}],"field":"value","type":"nominal","scale":{"domain":["G","Y","R","X","N/A","1","2","3"],"range":["#92D050","#FFFF00","#FF0000","#D9D9D9","#FFFFFF","#92D050","#FFFF80","#FF7C80"]},"legend":null}}}]},
 {"width":50,"height":32.5,"view":{"fill":"#B4C7E3","stroke":null},"transform":[{"filter":"datum.sec==='S4'"},{"fold":["n1","n2","p"]}],"encoding":{"x":{"field":"key","type":"nominal","sort":["n1","n2","p"],"axis":null,"scale":{"paddingInner":0.06,"paddingOuter":0.03}},"y":{"field":"i","type":"ordinal","axis":null,"scale":{"paddingInner":0.13,"paddingOuter":0.065}}},"layer":[{"mark":"rect","encoding":{"color":{"condition":[{"test":"datum.t==='section'","value":"#95B3D7"},{"test":"datum.t==='total'","value":"#17365D"},{"test":"datum.key!=='p'","value":"#FFFFFF"}],"field":"value","type":"nominal","scale":{"domain":["G","Y","R","X","N/A","1","2","3"],"range":["#92D050","#FFFF00","#FF0000","#D9D9D9","#FFFFFF","#92D050","#FFFF80","#FF7C80"]},"legend":null}}},{"transform":[{"filter":"datum.t==='item'"}],"mark":{"type":"text","fontSize":2.5,"color":"#111111"},"encoding":{"text":{"field":"value"}}}]}
]},
{"spacing":0,"hconcat":[
 {"width":8,"height":59.5,"view":{"fill":"#B4C7E3","stroke":null},"transform":[{"filter":"datum.sec==='S5'"},{"fold":["nr"]}],"encoding":{"x":{"field":"key","type":"nominal","axis":null,"scale":{"paddingInner":0,"paddingOuter":0.06}},"y":{"field":"i","type":"ordinal","axis":null,"scale":{"paddingInner":0.13,"paddingOuter":0.065}}},"layer":[{"mark":"rect","encoding":{"color":{"condition":[{"test":"datum.t==='section'","value":"#95B3D7"},{"test":"datum.t==='total'","value":"#17365D"}],"value":"#FFFFFF"}}},{"transform":[{"filter":"datum.t==='item'"}],"mark":{"type":"text","fontSize":2.8,"color":"#111111"},"encoding":{"text":{"field":"value"}}}]},
 {"width":95,"height":59.5,"view":{"fill":"#B4C7E3","stroke":null},"transform":[{"filter":"datum.sec==='S5'"},{"fold":["name"]}],"encoding":{"x":{"field":"key","type":"nominal","axis":null,"scale":{"paddingInner":0,"paddingOuter":0.005}},"y":{"field":"i","type":"ordinal","axis":null,"scale":{"paddingInner":0.13,"paddingOuter":0.065}}},"layer":[{"mark":"rect","encoding":{"color":{"condition":[{"test":"datum.t==='section'","value":"#95B3D7"},{"test":"datum.t==='total'","value":"#17365D"}],"value":"#FFFFFF"}}},{"transform":[{"filter":"datum.t==='item'"}],"mark":{"type":"text","fontSize":3,"align":"left","dx":1.5,"color":"#111111"},"encoding":{"x":{"field":"key","type":"nominal","bandPosition":0,"axis":null},"text":{"field":"value"}}},{"transform":[{"filter":"datum.t==='section'"}],"mark":{"type":"text","fontSize":3.2,"fontWeight":"bold","align":"left","dx":1,"color":"#000000"},"encoding":{"x":{"field":"key","type":"nominal","bandPosition":0,"axis":null},"text":{"field":"value"}}}]},
 {"width":102,"height":59.5,"view":{"fill":"#B4C7E3","stroke":null},"transform":[{"filter":"datum.sec==='S5'"},{"fold":["a","b","c","fase","rap"]}],"encoding":{"x":{"field":"key","type":"nominal","sort":["a","b","c","fase","rap"],"axis":null,"scale":{"paddingInner":0.05,"paddingOuter":0.025}},"y":{"field":"i","type":"ordinal","axis":null,"scale":{"paddingInner":0.13,"paddingOuter":0.065}}},"layer":[{"mark":"rect","encoding":{"color":{"condition":[{"test":"datum.t==='section'","value":"#95B3D7"},{"test":"datum.t==='total'","value":"#17365D"}],"value":"#FFFFFF"}}},{"transform":[{"filter":"datum.t==='item'"}],"mark":{"type":"text","fontSize":2.5,"align":"left","dx":1,"color":"#111111"},"encoding":{"x":{"field":"key","type":"nominal","sort":["a","b","c","fase","rap"],"bandPosition":0,"axis":null},"text":{"field":"value"}}}]},
 {"width":164,"height":59.5,"view":{"fill":"#B4C7E3","stroke":null},"transform":[{"filter":"datum.sec==='S5'"},{"fold":["s1","s2","s3","s4","s5","s6","s7","s8"]}],"encoding":{"x":{"field":"key","type":"nominal","sort":["s1","s2","s3","s4","s5","s6","s7","s8"],"axis":null,"scale":{"paddingInner":0.05,"paddingOuter":0.025}},"y":{"field":"i","type":"ordinal","axis":null,"scale":{"paddingInner":0.13,"paddingOuter":0.065}}},"layer":[{"mark":"rect","encoding":{"color":{"condition":[{"test":"datum.t==='section'","value":"#95B3D7"},{"test":"datum.t==='total'","value":"#17365D"}],"field":"value","type":"nominal","scale":{"domain":["G","Y","R","X","N/A","1","2","3"],"range":["#92D050","#FFFF00","#FF0000","#D9D9D9","#FFFFFF","#92D050","#FFFF80","#FF7C80"]},"legend":null}}}]},
 {"width":50,"height":59.5,"view":{"fill":"#B4C7E3","stroke":null},"transform":[{"filter":"datum.sec==='S5'"},{"fold":["n1","n2","p"]}],"encoding":{"x":{"field":"key","type":"nominal","sort":["n1","n2","p"],"axis":null,"scale":{"paddingInner":0.06,"paddingOuter":0.03}},"y":{"field":"i","type":"ordinal","axis":null,"scale":{"paddingInner":0.13,"paddingOuter":0.065}}},"layer":[{"mark":"rect","encoding":{"color":{"condition":[{"test":"datum.t==='section'","value":"#95B3D7"},{"test":"datum.t==='total'","value":"#17365D"},{"test":"datum.key!=='p'","value":"#FFFFFF"}],"field":"value","type":"nominal","scale":{"domain":["G","Y","R","X","N/A","1","2","3"],"range":["#92D050","#FFFF00","#FF0000","#D9D9D9","#FFFFFF","#92D050","#FFFF80","#FF7C80"]},"legend":null}}},{"transform":[{"filter":"datum.t==='item'"}],"mark":{"type":"text","fontSize":2.5,"color":"#111111"},"encoding":{"text":{"field":"value"}}}]}
]},
{"spacing":0,"hconcat":[
 {"width":8,"height":8,"view":{"fill":"#B4C7E3","stroke":null},"transform":[{"filter":"datum.sec==='T'"},{"fold":["nr"]}],"encoding":{"x":{"field":"key","type":"nominal","axis":null,"scale":{"paddingInner":0,"paddingOuter":0.06}},"y":{"field":"i","type":"ordinal","axis":null,"scale":{"paddingInner":0.13,"paddingOuter":0.065}}},"layer":[{"mark":"rect","encoding":{"color":{"condition":[{"test":"datum.t==='section'","value":"#95B3D7"},{"test":"datum.t==='total'","value":"#17365D"}],"value":"#FFFFFF"}}}]},
 {"width":95,"height":8,"view":{"fill":"#B4C7E3","stroke":null},"transform":[{"filter":"datum.sec==='T'"},{"fold":["name"]}],"encoding":{"x":{"field":"key","type":"nominal","axis":null,"scale":{"paddingInner":0,"paddingOuter":0.005}},"y":{"field":"i","type":"ordinal","axis":null,"scale":{"paddingInner":0.13,"paddingOuter":0.065}}},"layer":[{"mark":"rect","encoding":{"color":{"condition":[{"test":"datum.t==='section'","value":"#95B3D7"},{"test":"datum.t==='total'","value":"#17365D"}],"value":"#FFFFFF"}}},{"transform":[{"filter":"datum.t==='total'"}],"mark":{"type":"text","fontSize":3.2,"fontWeight":"bold","align":"left","dx":1,"color":"#FFFFFF"},"encoding":{"x":{"field":"key","type":"nominal","bandPosition":0,"axis":null},"text":{"field":"value"}}}]},
 {"width":102,"height":8,"view":{"fill":"#B4C7E3","stroke":null},"transform":[{"filter":"datum.sec==='T'"},{"fold":["a","b","c","fase","rap"]}],"encoding":{"x":{"field":"key","type":"nominal","sort":["a","b","c","fase","rap"],"axis":null,"scale":{"paddingInner":0.05,"paddingOuter":0.025}},"y":{"field":"i","type":"ordinal","axis":null,"scale":{"paddingInner":0.13,"paddingOuter":0.065}}},"layer":[{"mark":"rect","encoding":{"color":{"condition":[{"test":"datum.t==='section'","value":"#95B3D7"},{"test":"datum.t==='total'","value":"#17365D"}],"value":"#FFFFFF"}}}]},
 {"width":164,"height":8,"view":{"fill":"#B4C7E3","stroke":null},"transform":[{"filter":"datum.sec==='T'"},{"fold":["s1","s2","s3","s4","s5","s6","s7","s8"]}],"encoding":{"x":{"field":"key","type":"nominal","sort":["s1","s2","s3","s4","s5","s6","s7","s8"],"axis":null,"scale":{"paddingInner":0.05,"paddingOuter":0.025}},"y":{"field":"i","type":"ordinal","axis":null,"scale":{"paddingInner":0.13,"paddingOuter":0.065}}},"layer":[{"mark":"rect","encoding":{"color":{"condition":[{"test":"datum.t==='section'","value":"#95B3D7"},{"test":"datum.t==='total'","value":"#17365D"}],"value":"#FFFFFF"}}}]},
 {"width":50,"height":8,"view":{"fill":"#B4C7E3","stroke":null},"transform":[{"filter":"datum.sec==='T'"},{"fold":["n1","n2","p"]}],"encoding":{"x":{"field":"key","type":"nominal","sort":["n1","n2","p"],"axis":null,"scale":{"paddingInner":0.06,"paddingOuter":0.03}},"y":{"field":"i","type":"ordinal","axis":null,"scale":{"paddingInner":0.13,"paddingOuter":0.065}}},"layer":[{"mark":"rect","encoding":{"color":{"condition":[{"test":"datum.t==='section'","value":"#95B3D7"},{"test":"datum.t==='total'","value":"#17365D"}],"value":"#FFFFFF"}}},{"transform":[{"filter":"datum.t==='total'"}],"mark":{"type":"text","fontSize":2.5,"fontWeight":"bold","color":"#FFFFFF"},"encoding":{"text":{"field":"value"}}}]}
]}
]}
]
}
